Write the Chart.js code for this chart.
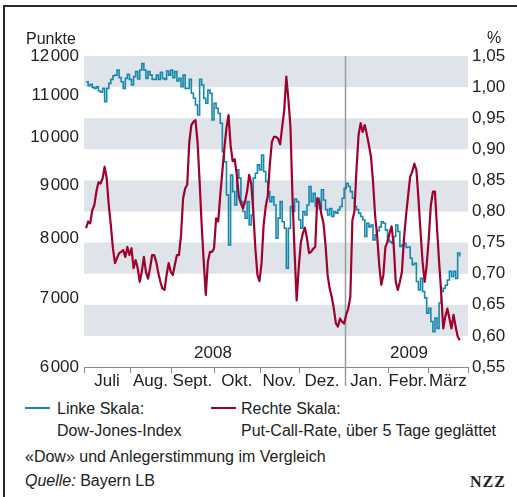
<!DOCTYPE html>
<html lang="de">
<head>
<meta charset="utf-8">
<title>«Dow» und Anlegerstimmung im Vergleich</title>
<script src="https://cdn.jsdelivr.net/npm/chart.js@4.4.1/dist/chart.umd.min.js"></script>
<style>
  body { margin: 0; width: 517px; height: 497px; overflow: hidden; background: #fff;
         font-family: "Liberation Sans", Arial, sans-serif; color: #222; }
  .frame { position: absolute; left: 3px; top: 5px; width: 600px; height: 600px;
           border-top: 2px solid #2a2a2a; border-left: 2px solid #2a2a2a; }
  #wrap { position: absolute; left: 0; top: 0; width: 517px; height: 400px; }
  .t { position: absolute; font-size: 16px; line-height: 16px; white-space: nowrap; }
  .sw { position: absolute; height: 2px; width: 25px; }
  .nzz { position: absolute; left: 470px; top: 474px; font-family: "Liberation Serif", serif;
         font-weight: bold; font-size: 16px; line-height: 16px; letter-spacing: 1px; }
</style>
</head>
<body>
<div class="frame"></div>
<div id="wrap"><canvas id="chart" width="517" height="400"></canvas></div>

<div class="t" style="left:26px; top:31px;">Punkte</div>
<div class="t" style="left:487px; top:30px;">%</div>

<div class="sw" style="left:25px; top:407px; background:#1589ad;"></div>
<div class="t" style="left:57px; top:401px;">Linke Skala:</div>
<div class="t" style="left:57px; top:423px;">Dow-Jones-Index</div>
<div class="sw" style="left:211px; top:407px; background:#a1002c;"></div>
<div class="t" style="left:241px; top:401px;">Rechte Skala:</div>
<div class="t" style="left:241px; top:423px;">Put-Call-Rate, über 5 Tage geglättet</div>

<div class="t" style="left:25px; top:449px;">«Dow» und Anlegerstimmung im Vergleich</div>
<div class="t" style="left:25px; top:473px;"><i>Quelle:</i> Bayern LB</div>
<div class="nzz">NZZ</div>

<script>
// x axis is in trading days since 1 July 2008
const monthLabels = ['Juli', 'Aug.', 'Sept.', 'Okt.', 'Nov.', 'Dez.', 'Jan.', 'Febr.', 'März'];
const monthStarts = [0, 22.3, 42.1, 62.9, 85.2, 104.1, 126.4, 147.2, 166.6, 186];
const yearLabels = ['2008', '2009'];
const yearPositions = [62.5, 157.4];
const yearLevel = 0.572;

const leftTicks = [6000, 7000, 8000, 9000, 10000, 11000, 12000];
const rightTicks = [0.55, 0.60, 0.65, 0.70, 0.75, 0.80, 0.85, 0.90, 0.95, 1.00, 1.05];
const bandRanges = [[0.60, 0.65], [0.70, 0.75], [0.80, 0.85], [0.90, 0.95], [1.00, 1.05]];

// Dow-Jones-Index, daily close (left scale)
const dowValues = [
  11330, 11230, 11265, 11190, 11165, 11205, 11100, 11068, 11165, 10840,
  11165, 11290, 11390, 11485, 11500, 11630, 11435, 11330, 11165, 11415,
  11520, 11390, 11250, 11460, 11590, 11400, 11630, 11800, 11630, 11415,
  11590, 11500, 11390, 11390, 11500, 11390, 11575, 11415, 11390, 11605,
  11500, 11630, 11435, 11590, 11350, 11415, 11205, 11500, 11165, 11165,
  11390, 11045, 10920, 10760, 10520, 11390, 11250, 10920, 10800, 11125,
  11045, 10405, 10800, 10680, 10555, 10330, 9695, 9480, 8805, 7875,
  9205, 8870, 8610, 9310, 9140, 8675, 8485, 8360, 8675, 8235,
  8420, 9140, 9240, 9415, 9310, 9625, 9275, 9070, 8870, 8675,
  8770, 8610, 7995, 8360, 8675, 8295, 8175, 7480, 8175, 8580,
  8485, 8725, 8675, 8330, 8175, 8485, 8420, 8610, 8970, 8675,
  8835, 8580, 8740, 8540, 8905, 8705, 8520, 8420, 8540, 8390,
  8485, 8455, 8520, 8580, 8740, 8935, 9035, 8970, 8870, 8740,
  8580, 8520, 8455, 8390, 8330, 8025, 8265, 8200, 8235, 7965,
  8055, 8130, 8200, 8295, 8265, 8145, 7965, 7935, 7905, 8025,
  8235, 8115, 7850, 7875, 7905, 7830, 7840, 7645, 7535, 7560,
  7260, 7125, 7310, 7100, 7000, 6765, 6840, 6640, 6490, 6690,
  6540, 6920, 7100, 7150, 7200, 7285, 7425, 7340, 7425, 7310,
  7735, 7675
];

// Put-Call-Rate, 5-day smoothed (right scale)
const putCallValues = [
  0.773, 0.784, 0.781, 0.802, 0.810, 0.832, 0.847, 0.845, 0.853, 0.872,
  0.853, 0.810, 0.778, 0.741, 0.717, 0.725, 0.733, 0.735, 0.738, 0.727,
  0.743, 0.730, 0.741, 0.709, 0.722, 0.709, 0.687, 0.703, 0.727, 0.703,
  0.692, 0.709, 0.730, 0.730, 0.719, 0.701, 0.687, 0.676, 0.674, 0.698,
  0.717, 0.703, 0.698, 0.714, 0.730, 0.730, 0.762, 0.821, 0.837, 0.843,
  0.912, 0.939, 0.944, 0.947, 0.912, 0.848, 0.778, 0.719, 0.666, 0.719,
  0.735, 0.735, 0.741, 0.789, 0.784, 0.826, 0.864, 0.902, 0.934, 0.955,
  0.907, 0.881, 0.884, 0.859, 0.824, 0.813, 0.805, 0.816, 0.832, 0.859,
  0.845, 0.800, 0.741, 0.698, 0.688, 0.717, 0.778, 0.808, 0.824, 0.875,
  0.912, 0.920, 0.920, 0.917, 0.908, 0.936, 0.963, 1.017, 0.980, 0.936,
  0.821, 0.735, 0.657, 0.709, 0.749, 0.765, 0.774, 0.757, 0.733, 0.735,
  0.740, 0.743, 0.821, 0.816, 0.795, 0.781, 0.746, 0.698, 0.676, 0.663,
  0.644, 0.620, 0.615, 0.628, 0.623, 0.620, 0.634, 0.644, 0.663, 0.786,
  0.800, 0.869, 0.923, 0.942, 0.928, 0.939, 0.924, 0.907, 0.888, 0.848,
  0.794, 0.760, 0.714, 0.682, 0.698, 0.743, 0.751, 0.765, 0.776, 0.746,
  0.687, 0.674, 0.687, 0.703, 0.757, 0.794, 0.826, 0.856, 0.864, 0.877,
  0.867, 0.821, 0.768, 0.719, 0.687, 0.714, 0.757, 0.810, 0.832, 0.832,
  0.773, 0.719, 0.671, 0.612, 0.631, 0.644, 0.628, 0.612, 0.634, 0.615,
  0.599, 0.593
];

const FONT = 'Liberation Sans';
const monthMids = monthLabels.map((m, i) => (monthStarts[i] + monthStarts[i + 1]) / 2);

const decor = {
  id: 'decor',
  beforeDatasetsDraw(chart) {
    const { ctx, chartArea, scales } = chart;
    const { x, y1 } = scales;
    ctx.save();

    // grey bands on the right-scale steps
    ctx.fillStyle = '#dee4ea';
    bandRanges.forEach(([lo, hi]) => {
      const top = y1.getPixelForValue(hi);
      const bot = y1.getPixelForValue(lo);
      ctx.fillRect(chartArea.left, top, chartArea.right - chartArea.left, bot - top);
    });

    // month separators below the axis
    ctx.strokeStyle = '#8a8a8a';
    ctx.lineWidth = 1;
    monthStarts.forEach(v => {
      const px = Math.round(x.getPixelForValue(v)) + 0.5;
      ctx.beginPath();
      ctx.moveTo(px, chartArea.bottom);
      ctx.lineTo(px, chartArea.bottom + 6);
      ctx.stroke();
    });

    // year change line
    const jan = Math.round(x.getPixelForValue(monthStarts[6])) + 0.5;
    ctx.strokeStyle = '#9c9c9c';
    ctx.lineWidth = 1.5;
    ctx.beginPath();
    ctx.moveTo(jan, chartArea.top);
    ctx.lineTo(jan, chartArea.bottom + 19);
    ctx.stroke();

    // year labels
    ctx.fillStyle = '#222';
    ctx.font = '17px "' + FONT + '"';
    ctx.textAlign = 'center';
    ctx.textBaseline = 'middle';
    yearLabels.forEach((t, i) => {
      ctx.fillText(t, x.getPixelForValue(yearPositions[i]), y1.getPixelForValue(yearLevel));
    });
    ctx.restore();
  }
};

const fmtPoints = v => String(v).replace(/(\d)(\d{3})$/, '$1\u200A$2');
const fmtRate = v => v.toFixed(2).replace('.', ',');

new Chart(document.getElementById('chart'), {
  type: 'line',
  data: {
    datasets: [
      {
        label: 'Put-Call-Rate',
        data: putCallValues.map((v, i) => ({ x: i + 1, y: v })),
        yAxisID: 'y1',
        borderColor: '#a1002c',
        borderWidth: 2.2,
        pointRadius: 0,
        tension: 0,
        borderJoinStyle: 'round',
        order: 1
      },
      {
        label: 'Dow-Jones-Index',
        data: dowValues.map((v, i) => ({ x: i + 1, y: v })),
        yAxisID: 'y',
        borderColor: '#1589ad',
        borderWidth: 1.6,
        pointRadius: 0,
        stepped: true,
        order: 2
      }
    ]
  },
  options: {
    responsive: false,
    animation: false,
    devicePixelRatio: 1,
    events: [],
    layout: { padding: { top: 56, left: 0, right: 0, bottom: 0 } },
    plugins: {
      legend: { display: false },
      tooltip: { enabled: false }
    },
    scales: {
      x: {
        type: 'linear',
        min: monthStarts[0],
        max: monthStarts[monthStarts.length - 1],
        afterBuildTicks: s => { s.ticks = monthMids.map(v => ({ value: v })); },
        afterFit: s => { s.height = 33; },
        grid: { display: false, drawTicks: false },
        border: { display: true, color: '#8a8a8a', width: 1 },
        ticks: {
          autoSkip: false,
          maxRotation: 0,
          padding: 4,
          color: '#222',
          font: { family: FONT, size: 17 },
          callback: (v, i) => monthLabels[i]
        }
      },
      y: {
        type: 'logarithmic',
        position: 'left',
        min: leftTicks[0],
        max: leftTicks[leftTicks.length - 1],
        afterBuildTicks: s => { s.ticks = leftTicks.map(v => ({ value: v })); },
        afterFit: s => { s.width = 84; },
        grid: { display: false, drawTicks: false },
        border: { display: false },
        ticks: {
          padding: 5,
          color: '#222',
          font: { family: FONT, size: 17 },
          callback: v => fmtPoints(v)
        }
      },
      y1: {
        type: 'linear',
        position: 'right',
        min: rightTicks[0],
        max: rightTicks[rightTicks.length - 1],
        afterBuildTicks: s => { s.ticks = rightTicks.map(v => ({ value: v })); },
        afterFit: s => { s.width = 49; },
        grid: { display: false, drawTicks: false },
        border: { display: false },
        ticks: {
          padding: 4,
          color: '#222',
          font: { family: FONT, size: 17 },
          callback: v => fmtRate(v)
        }
      }
    }
  },
  plugins: [decor]
});
</script>
</body>
</html>
